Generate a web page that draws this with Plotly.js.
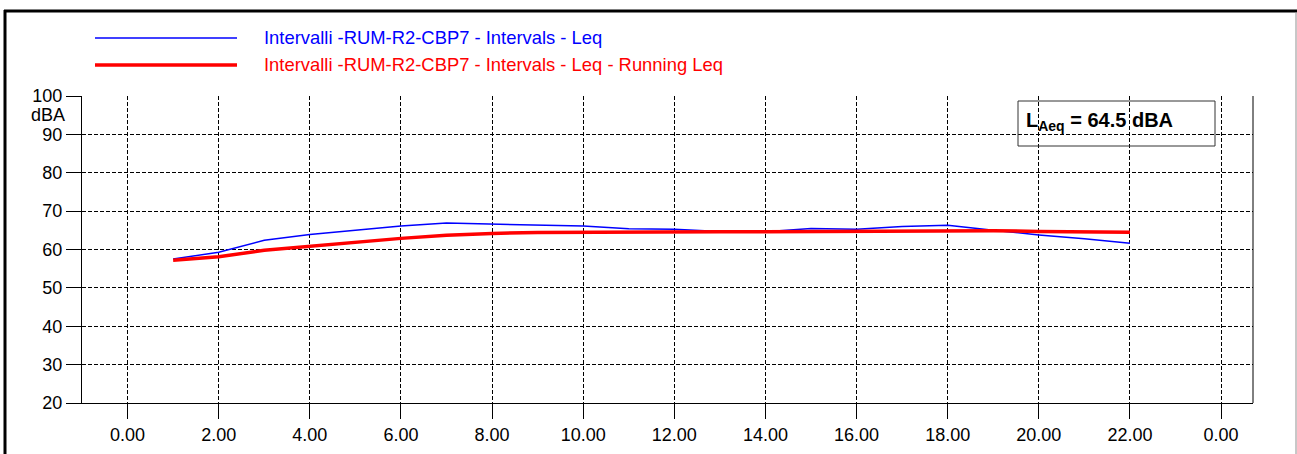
<!DOCTYPE html>
<html>
<head>
<meta charset="utf-8">
<script src="https://cdn.plot.ly/plotly-3.0.1.min.js"></script>
<style>
  html, body { margin: 0; padding: 0; background: #ffffff; }
  #chart { width: 1297px; height: 454px; }
</style>
</head>
<body>
<div id="chart"></div>
<script>
// Hours of the day (interval index)
const hours = [1, 2, 3, 4, 5, 6, 7, 8, 9, 10, 11, 12, 13, 14, 15, 16, 17, 18, 19, 20, 21, 22];
// Interval Leq (dBA)
const leq = [57.5, 59.3, 62.4, 63.9, 65.0, 66.1, 66.9, 66.6, 66.3, 66.1, 65.4, 65.3, 64.7, 64.6, 65.5, 65.3, 66.0, 66.3, 65.0, 63.8, 62.8, 61.6];
// Running Leq (dBA)
const runningLeq = [57.2, 58.1, 59.8, 60.9, 61.9, 62.9, 63.7, 64.2, 64.4, 64.5, 64.6, 64.7, 64.6, 64.6, 64.7, 64.8, 64.9, 64.9, 64.9, 64.7, 64.6, 64.5];
// X tick positions and labels
const xTickVals = [0, 2, 4, 6, 8, 10, 12, 14, 16, 18, 20, 22, 24];
const xTickText = ["0.00", "2.00", "4.00", "6.00", "8.00", "10.00", "12.00", "14.00", "16.00", "18.00", "20.00", "22.00", "0.00"];
// Y tick positions
const yTickVals = [20, 30, 40, 50, 60, 70, 80, 90, 100];
const seriesNames = ["Intervalli -RUM-R2-CBP7 - Intervals - Leq", "Intervalli -RUM-R2-CBP7 - Intervals - Leq - Running Leq"];
const laeqText = "L<sub>Aeq</sub> = 64.5 dBA";

const FONT = "Liberation Sans, Arial, sans-serif";

const traces = [
  { x: hours, y: leq, type: "scatter", mode: "lines", name: seriesNames[0],
    line: { color: "#0000ff", width: 1.5 }, hoverinfo: "skip" },
  { x: hours, y: runningLeq, type: "scatter", mode: "lines", name: seriesNames[1],
    line: { color: "#ff0000", width: 3.5 }, hoverinfo: "skip" }
];

// plot area: px 82..1253 horizontally, 96..403 vertically
const L = 82, R = 1253, T = 96, B = 403;
const px = v => (v - L) / (R - L);
const py = v => (B - v) / (B - T);

const layout = {
  width: 1297, height: 454,
  margin: { l: L, r: 1297 - R, t: T, b: 454 - B },
  paper_bgcolor: "#ffffff", plot_bgcolor: "#ffffff",
  showlegend: false,
  font: { family: FONT, color: "#000000", size: 18 },
  xaxis: {
    range: [-1, 24.7], tickvals: xTickVals, ticktext: xTickText,
    showgrid: true, gridcolor: "#000000", gridwidth: 1, griddash: "4px,2px",
    showline: true, linecolor: "#000000", linewidth: 1,
    ticks: "outside", ticklen: 15, tickcolor: "#000000", tickwidth: 1,
    tickfont: { family: FONT, size: 18, color: "#000000" },
    zeroline: false, fixedrange: true
  },
  yaxis: {
    range: [20, 100], tickvals: yTickVals,
    showgrid: true, gridcolor: "#000000", gridwidth: 1, griddash: "4px,2px",
    showline: true, linecolor: "#000000", linewidth: 1,
    ticks: "outside", ticklen: 15, tickcolor: "#000000", tickwidth: 1,
    tickfont: { family: FONT, size: 18, color: "#000000" },
    zeroline: false, fixedrange: true
  },
  shapes: [
    // right border of plot
    { type: "line", xref: "paper", yref: "paper", x0: 1, x1: 1, y0: 0, y1: 1,
      line: { color: "#000000", width: 1 } },
    // outer frame
    { type: "line", xref: "paper", yref: "paper", x0: px(4), x1: px(1297), y0: py(11), y1: py(11),
      line: { color: "#000000", width: 3 } },
    { type: "line", xref: "paper", yref: "paper", x0: px(5), x1: px(5), y0: py(10), y1: py(460),
      line: { color: "#000000", width: 3 } },
    { type: "line", xref: "paper", yref: "paper", x0: px(1296), x1: px(1296), y0: py(12), y1: py(460),
      line: { color: "#909090", width: 1 } },
    // legend samples
    { type: "line", xref: "paper", yref: "paper", x0: px(95), x1: px(237), y0: py(38), y1: py(38),
      line: { color: "#0000ff", width: 1.5 } },
    { type: "line", xref: "paper", yref: "paper", x0: px(95), x1: px(237), y0: py(65), y1: py(65),
      line: { color: "#ff0000", width: 3.5 } },
    // LAeq box
    { type: "rect", xref: "paper", yref: "paper", x0: px(1018), x1: px(1215), y0: py(146), y1: py(101),
      line: { color: "#333333", width: 1 }, fillcolor: "rgba(0,0,0,0)" }
  ],
  annotations: [
    { xref: "paper", yref: "paper", x: px(262), y: py(38), xanchor: "left", yanchor: "middle",
      text: seriesNames[0], showarrow: false, font: { family: FONT, size: 18.4, color: "#0000ff" } },
    { xref: "paper", yref: "paper", x: px(262), y: py(65), xanchor: "left", yanchor: "middle",
      text: seriesNames[1], showarrow: false, font: { family: FONT, size: 18.4, color: "#ff0000" } },
    { xref: "paper", yref: "paper", x: px(67), y: py(115), xanchor: "right", yanchor: "middle",
      text: "dBA", showarrow: false, font: { family: FONT, size: 18, color: "#000000" } },
    { xref: "paper", yref: "paper", x: px(1024), y: py(121), xanchor: "left", yanchor: "middle",
      text: "<b>" + laeqText + "</b>", showarrow: false, font: { family: FONT, size: 20, color: "#000000" } }
  ]
};

Plotly.newPlot("chart", traces, layout, { displayModeBar: false, staticPlot: true });
</script>
</body>
</html>
